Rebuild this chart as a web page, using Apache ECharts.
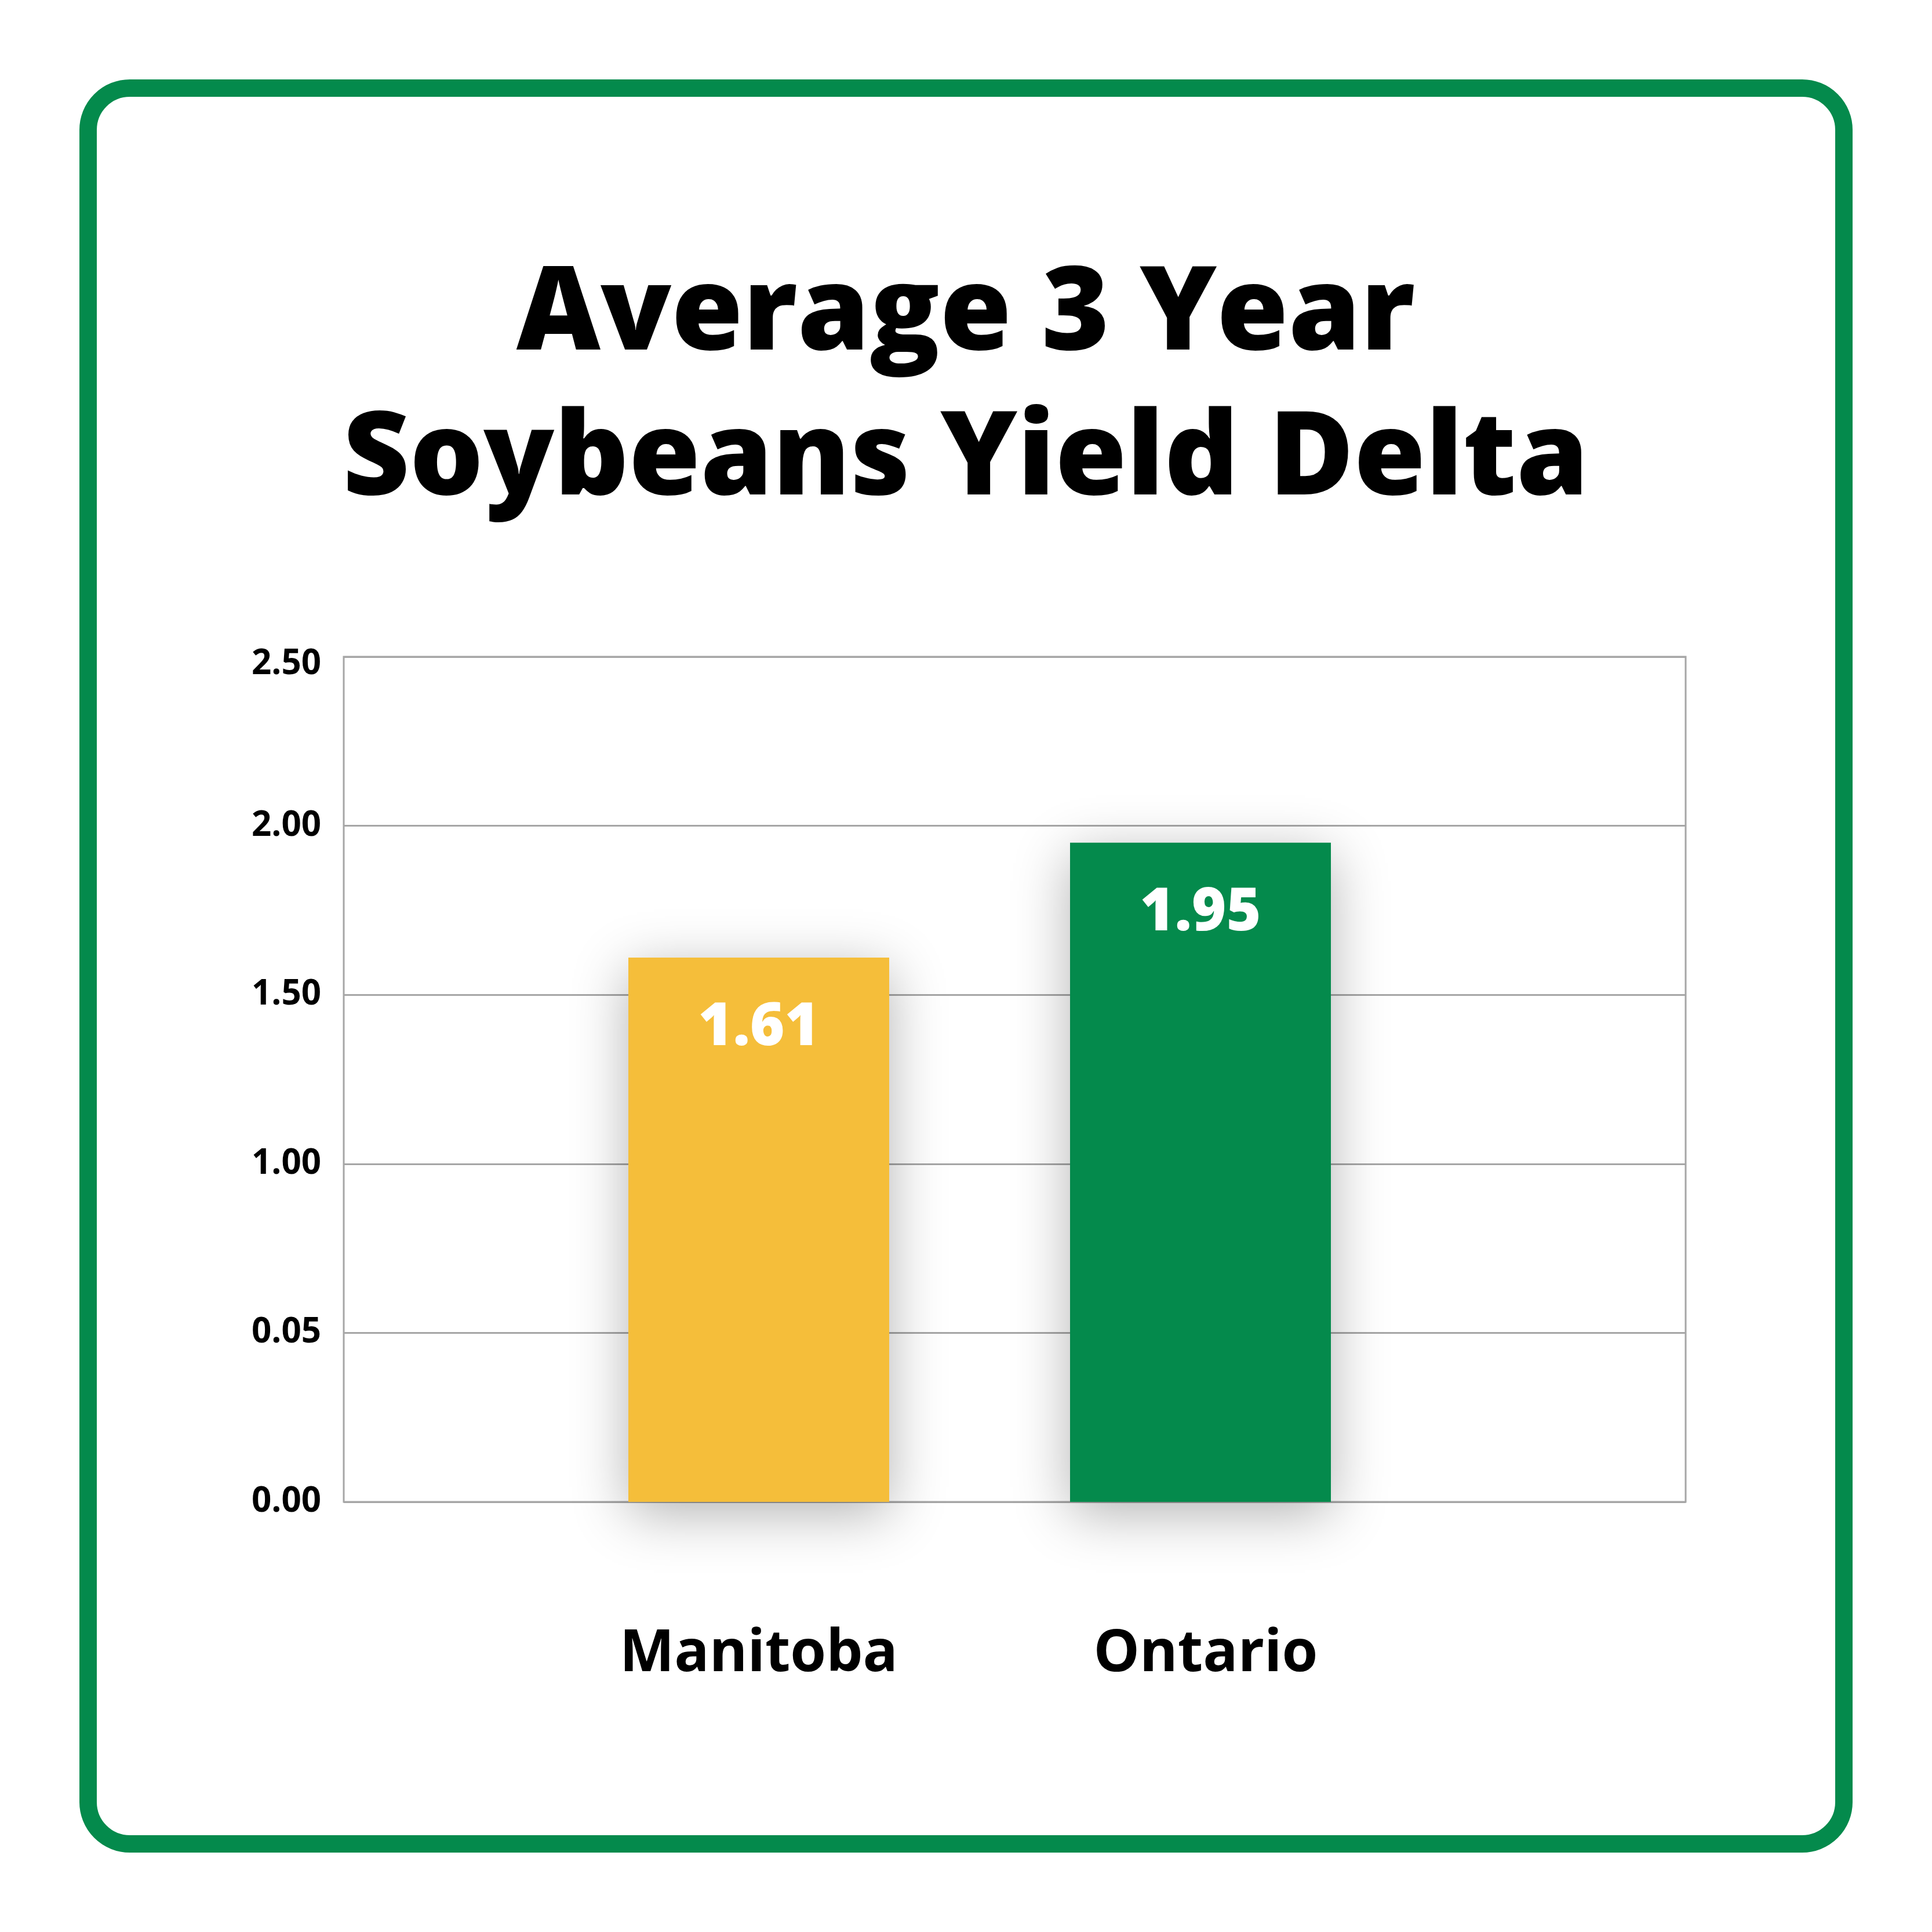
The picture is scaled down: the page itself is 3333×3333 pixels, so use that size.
<!DOCTYPE html>
<html>
<head>
<meta charset="utf-8">
<script src="https://cdn.jsdelivr.net/npm/echarts@6/dist/echarts.min.js"></script>
<style>
html,body{margin:0;padding:0;background:#fff;}
#chart{width:3333px;height:3333px;}
</style>
</head>
<body>
<div id="chart"></div>
<script>
var titleText = 'Average 3 Year\nSoybeans Yield Delta';
var categories = ['Manitoba', 'Ontario'];
var values = [1.61, 1.95];
var barColors = ['#F5BE3A', '#048A4C'];
var yTickLabels = ['0.00', '0.05', '1.00', '1.50', '2.00', '2.50'];

var FONT = '"Open Sans", "Noto Sans", sans-serif';
var chart = echarts.init(document.getElementById('chart'), null, {renderer: 'canvas'});

var option = {
  backgroundColor: '#ffffff',
  animation: false,
  title: {
    text: titleText,
    left: 1661,
    top: 416,
    textAlign: 'center',
    textStyle: {
      fontFamily: FONT,
      fontWeight: 800,
      fontSize: 200,
      lineHeight: 250,
      color: '#000000',
      align: 'center'
    }
  },
  graphic: [{
    type: 'rect',
    shape: {x: 152, y: 152, width: 3029, height: 3029, r: 72},
    style: {fill: 'none', stroke: '#048A4C', lineWidth: 30},
    z: 100
  }],
  grid: [
    {left: 593, right: 425, top: 1133, bottom: 742, show: true, borderColor: '#A6A6A6', borderWidth: 3, containLabel: false},
    {left: 928, right: 881, top: 1133, bottom: 742, containLabel: false}
  ],
  xAxis: [
    {type: 'category', gridIndex: 0, data: categories, show: false},
    {
      type: 'category', gridIndex: 1, data: categories,
      axisLine: {show: false}, axisTick: {show: false},
      axisLabel: {
        margin: 214, fontFamily: FONT, fontWeight: 'bold', fontSize: 100, lineHeight: 100, color: '#000000',
        formatter: function (v, i) { return i === 1 ? '{r|' + v + '}' : v; },
        rich: {
          r: {fontFamily: FONT, fontWeight: 'bold', fontSize: 100, lineHeight: 100, color: '#000000', padding: [0, 0, 0, 18]}
        }
      }
    }
  ],
  yAxis: [
    {
      type: 'value', gridIndex: 0, min: 0, max: 2.5, interval: 0.5,
      axisLine: {show: false}, axisTick: {show: false},
      splitLine: {show: true, lineStyle: {color: '#A6A6A6', width: 3}},
      axisLabel: {
        margin: 39, fontFamily: FONT, fontWeight: 'bold', fontSize: 60, color: '#000000',
        formatter: function (v) {
          var idx = Math.round(v / 0.5);
          var t = yTickLabels[idx];
          return idx === yTickLabels.length - 1 ? '{top|' + t + '}' : t;
        },
        rich: {
          top: {fontFamily: FONT, fontWeight: 'bold', fontSize: 60, color: '#000000', padding: [26, 0, 0, 0]}
        }
      }
    },
    {
      type: 'value', gridIndex: 1, min: 0, max: 2.5, interval: 0.5, show: false,
      splitLine: {show: false}
    }
  ],
  series: [{
    type: 'bar',
    xAxisIndex: 1,
    yAxisIndex: 1,
    barWidth: 450,
    data: values.map(function (v, i) {
      return {value: v, itemStyle: {color: barColors[i]}};
    }),
    itemStyle: {
      shadowBlur: 90,
      shadowColor: 'rgba(0,0,0,0.3)',
      shadowOffsetY: 20
    },
    label: {
      show: true,
      position: 'insideTop',
      distance: 72,
      fontFamily: FONT,
      fontWeight: 800,
      fontSize: 102,
      lineHeight: 100,
      color: '#ffffff',
      formatter: function (p) { return p.value.toFixed(2); }
    }
  }]
};
chart.setOption(option);
</script>
</body>
</html>
